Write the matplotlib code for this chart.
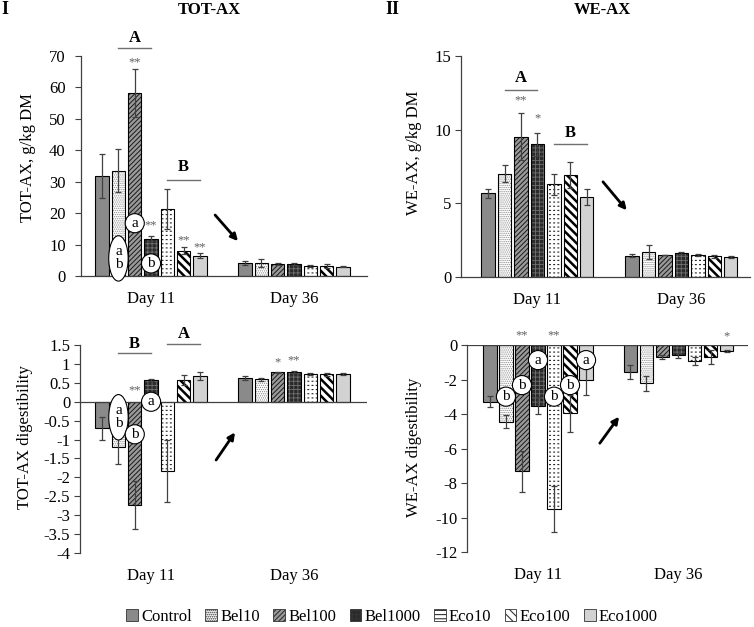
import matplotlib
matplotlib.use("Agg")
import matplotlib.pyplot as plt
import numpy as np
from matplotlib.patches import Patch

plt.rcParams['font.family'] = ['Liberation Serif', 'DejaVu Serif']
plt.rcParams['axes.unicode_minus'] = False
plt.rcParams['hatch.linewidth'] = 0.8

# ---------------- data ----------------
groups = ["Day 11", "Day 36"]
treatments = ["Control", "Bel10", "Bel100", "Bel1000", "Eco10", "Eco100", "Eco1000"]

tot_ax_d11 = [31.7, 33.5, 58.3, 11.9, 21.3, 8.0, 6.5]
tot_ax_d11_err = [7.0, 6.9, 7.6, 0.8, 6.4, 1.1, 0.7]
tot_ax_d36 = [4.2, 4.2, 3.7, 3.7, 3.3, 3.3, 3.0]
tot_ax_d36_err = [0.6, 1.2, 0.3, 0.3, 0.3, 0.6, 0.1]

we_ax_d11 = [5.67, 7.02, 9.52, 9.0, 6.28, 6.91, 5.44]
we_ax_d11_err = [0.3, 0.6, 1.6, 0.8, 0.7, 0.9, 0.55]
we_ax_d36 = [1.45, 1.7, 1.5, 1.63, 1.5, 1.4, 1.36]
we_ax_d36_err = [0.1, 0.5, 0.02, 0.07, 0.05, 0.1, 0.05]

tot_dig_d11 = [-0.70, -1.19, -2.73, 0.57, -1.84, 0.57, 0.69]
tot_dig_d11_err = [0.30, 0.45, 0.63, 0.03, 0.82, 0.14, 0.11]
tot_dig_d36 = [0.625, 0.59, 0.78, 0.79, 0.73, 0.73, 0.73]
tot_dig_d36_err = [0.05, 0.05, 0.02, 0.02, 0.02, 0.04, 0.02]

we_dig_d11 = [-3.28, -4.44, -7.33, -3.51, -9.51, -3.96, -2.03]
we_dig_d11_err = [0.30, 0.38, 1.20, 0.48, 1.33, 1.06, 0.86]
we_dig_d36 = [-1.54, -2.22, -0.68, -0.58, -0.93, -0.71, -0.35]
we_dig_d36_err = [0.40, 0.44, 0.12, 0.15, 0.25, 0.40, 0.04]

# ---------------- styles ----------------
faces = ['#8a8a8a', 'white', '#9a9a9a', '#2a2a2a', 'white', 'white', '#d2d2d2']
hatches = [None, '........', '///////', '++++', '----', '\\\\\\\\', None]
hcolors = ['#8a8a8a', '#8a8a8a', '#1a1a1a', '#707070', '#222222', 'black', '#d2d2d2']
hlw = [0.8, 0.6, 0.7, 0.6, 0.8, 1.8, 0.8]
# overlay hatch (white breaks to turn Eco10 lines into dashes)
over_hatch = [None, None, None, None, '||||', None, None]

PITCH = 0.114
WIDTH = 0.094
ERRC = '#404040'
AXC = '#404040'
GRAYT = '#606060'
FS = 12


def xpos(g, i):
    return g + (i - 3) * PITCH


def set_hlw(bars, lw):
    for p in bars:
        if hasattr(p, 'set_hatch_linewidth'):
            p.set_hatch_linewidth(lw)


def draw_bars(ax, d11, e11, d36, e36):
    for i in range(7):
        xs = [xpos(0, i), xpos(1, i)]
        vals = [d11[i], d36[i]]
        errs = [e11[i], e36[i]]
        b = ax.bar(xs, vals, WIDTH, color=faces[i], hatch=hatches[i],
                   edgecolor=hcolors[i], linewidth=0, zorder=2)
        set_hlw(b, hlw[i])
        if over_hatch[i]:
            b2 = ax.bar(xs, vals, WIDTH, fill=False, hatch=over_hatch[i],
                        edgecolor='white', linewidth=0, zorder=2.5)
            set_hlw(b2, 1.6)
        ax.bar(xs, vals, WIDTH, fill=False, edgecolor='black', linewidth=0.8, zorder=3)
        ax.errorbar(xs, vals, yerr=errs, fmt='none', ecolor=ERRC, elinewidth=0.9,
                    capsize=2.5, capthick=0.9, zorder=4)


def style_axis(ax, ylim, yticks, bottom_zero=True):
    ax.set_ylim(*ylim)
    ax.set_yticks(yticks)
    ax.set_yticklabels(['%g' % t for t in yticks], fontsize=FS)
    ax.spines['top'].set_visible(False)
    ax.spines['right'].set_visible(False)
    ax.spines['left'].set_color(AXC)
    ax.spines['left'].set_linewidth(0.9)
    ax.tick_params(axis='y', direction='out', length=4, width=0.8, color=AXC, pad=3)
    ax.set_xticks([0, 1])
    ax.set_xticklabels(groups, fontsize=FS)
    ax.tick_params(axis='x', length=0, pad=11)
    if bottom_zero:
        ax.spines['bottom'].set_color(AXC)
        ax.spines['bottom'].set_linewidth(0.9)
    else:
        ax.spines['bottom'].set_visible(False)
        ax.axhline(0, color=AXC, lw=0.9, zorder=5)


def star(ax, g, i, y, s):
    ax.text(xpos(g, i), y, s, ha='center', va='center', fontsize=9,
            color=GRAYT, clip_on=False, zorder=6)


def circ(ax, g, i, y, s, ellipse=False):
    if ellipse:
        ax.text(xpos(g, i), y, s, ha='center', va='center', fontsize=11,
                linespacing=1.0, zorder=7,
                bbox=dict(boxstyle='ellipse,pad=0.2', fc='white', ec='black', lw=0.8))
    else:
        ax.text(xpos(g, i), y, s, ha='center', va='center', fontsize=11, zorder=7,
                bbox=dict(boxstyle='circle,pad=0.2', fc='white', ec='black', lw=0.8))


def group_bar(ax, i0, i1, y, ytxt, s):
    ax.plot([xpos(0, i0), xpos(0, i1)], [y, y], color='#707070', lw=1.0, clip_on=False)
    ax.text((xpos(0, i0) + xpos(0, i1)) / 2, ytxt, s, ha='center', va='center',
            fontsize=12, fontweight='bold', clip_on=False)


def arrow(ax, x0, y0, x1, y1):
    ax.annotate('', xy=(x1, y1), xytext=(x0, y0),
                arrowprops=dict(arrowstyle='-|>', lw=2.0, color='black',
                                mutation_scale=10, shrinkA=0, shrinkB=0))


fig = plt.figure(figsize=(7.54, 6.27), dpi=100)

# ---- top-left TOT-AX
ax1 = fig.add_axes([0.1074, 0.5598, 0.3793, 0.3509])
draw_bars(ax1, tot_ax_d11, tot_ax_d11_err, tot_ax_d36, tot_ax_d36_err)
style_axis(ax1, (0, 70), np.arange(0, 71, 10))
ax1.set_xlim(-0.49, 1.51)
ax1.tick_params(axis='y', pad=7)
group_bar(ax1, 1, 3, 72.4, 75.8, 'A')
group_bar(ax1, 4, 6, 30.5, 34.8, 'B')
star(ax1, 0, 2, 68.0, '**')
star(ax1, 0, 3, 16.0, '**')
star(ax1, 0, 5, 11.4, '**')
star(ax1, 0, 6, 9.2, '**')
circ(ax1, 0, 2, 16.8, 'a')
circ(ax1, 0, 1, 5.6, 'a\nb', ellipse=True)
circ(ax1, 0, 3, 4.0, 'b')
arrow(ax1, 0.448, 19.4, 0.608, 11.1)

# ---- top-right WE-AX
ax2 = fig.add_axes([0.6114, 0.5582, 0.3833, 0.3525])
draw_bars(ax2, we_ax_d11, we_ax_d11_err, we_ax_d36, we_ax_d36_err)
style_axis(ax2, (0, 15), [0, 5, 10, 15])
ax2.set_xlim(-0.531, 1.476)
group_bar(ax2, 1, 3, 12.7, 13.5, 'A')
group_bar(ax2, 4, 6, 9.0, 9.8, 'B')
star(ax2, 0, 2, 12.0, '**')
star(ax2, 0, 3, 10.8, '*')
arrow(ax2, 0.455, 6.46, 0.62, 4.53)

# ---- bottom-left TOT-AX digestibility
ax3 = fig.add_axes([0.1061, 0.118, 0.3806, 0.3317])
draw_bars(ax3, tot_dig_d11, tot_dig_d11_err, tot_dig_d36, tot_dig_d36_err)
style_axis(ax3, (-4, 1.5), np.arange(-4, 1.51, 0.5), bottom_zero=False)
ax3.set_xlim(-0.497, 1.51)
group_bar(ax3, 1, 3, 1.28, 1.54, 'B')
group_bar(ax3, 4, 6, 1.52, 1.80, 'A')
star(ax3, 0, 2, 0.31, '**')
star(ax3, 1, 2, 1.04, '*')
star(ax3, 1, 3, 1.10, '**')
circ(ax3, 0, 1, -0.41, 'a\nb', ellipse=True)
circ(ax3, 0, 2, -0.86, 'b')
circ(ax3, 0, 3, 0.0, 'a')
arrow(ax3, 0.455, -1.54, 0.587, -0.81)

# ---- bottom-right WE-AX digestibility
ax4 = fig.add_axes([0.6194, 0.1196, 0.3727, 0.330])
draw_bars(ax4, we_dig_d11, we_dig_d11_err, we_dig_d36, we_dig_d36_err)
style_axis(ax4, (-12, 0), np.arange(-12, 0.1, 2), bottom_zero=False)
ax4.set_xlim(-0.505, 1.495)
star(ax4, 0, 2, 0.58, '**')
star(ax4, 0, 4, 0.58, '**')
star(ax4, 1, 6, 0.48, '*')
circ(ax4, 0, 1, -2.99, 'b')
circ(ax4, 0, 2, -2.32, 'b')
circ(ax4, 0, 3, -0.87, 'a')
circ(ax4, 0, 4, -2.99, 'b')
circ(ax4, 0, 5, -2.32, 'b')
circ(ax4, 0, 6, -0.87, 'a')
arrow(ax4, 0.44, -5.69, 0.577, -4.15)

# ---- labels / titles
W, H = 754.0, 627.0
fig.text(28 / W, 1 - 158 / H, 'TOT-AX, g/kg DM', rotation=90, ha='center', va='center', fontsize=12)
fig.text(414 / W, 1 - 153 / H, 'WE-AX, g/kg DM', rotation=90, ha='center', va='center', fontsize=12)
fig.text(25 / W, 1 - 437 / H, 'TOT-AX digestibility', rotation=90, ha='center', va='center', fontsize=12)
fig.text(414 / W, 1 - 447 / H, 'WE-AX digestibility', rotation=90, ha='center', va='center', fontsize=12)
fig.text(209 / W, 1 - 10 / H, 'TOT-AX', ha='center', va='center', fontsize=12, fontweight='bold')
fig.text(602 / W, 1 - 10 / H, 'WE-AX', ha='center', va='center', fontsize=12, fontweight='bold')
fig.text(5 / W, 1 - 9 / H, 'I', ha='center', va='center', fontsize=13, fontweight='bold')
fig.text(392 / W, 1 - 9 / H, 'II', ha='center', va='center', fontsize=13, fontweight='bold')

handles = [Patch(facecolor=faces[i], hatch=hatches[i], edgecolor='#333333', linewidth=0.6)
           for i in range(7)]
fig.legend(handles, treatments, loc='center', bbox_to_anchor=(0.52, 1 - 617 / H), ncol=7,
           frameon=False, fontsize=12, handlelength=0.7, handleheight=0.7,
           handletextpad=0.2, columnspacing=0.8, borderaxespad=0)

fig.savefig('out.png', dpi=100)
